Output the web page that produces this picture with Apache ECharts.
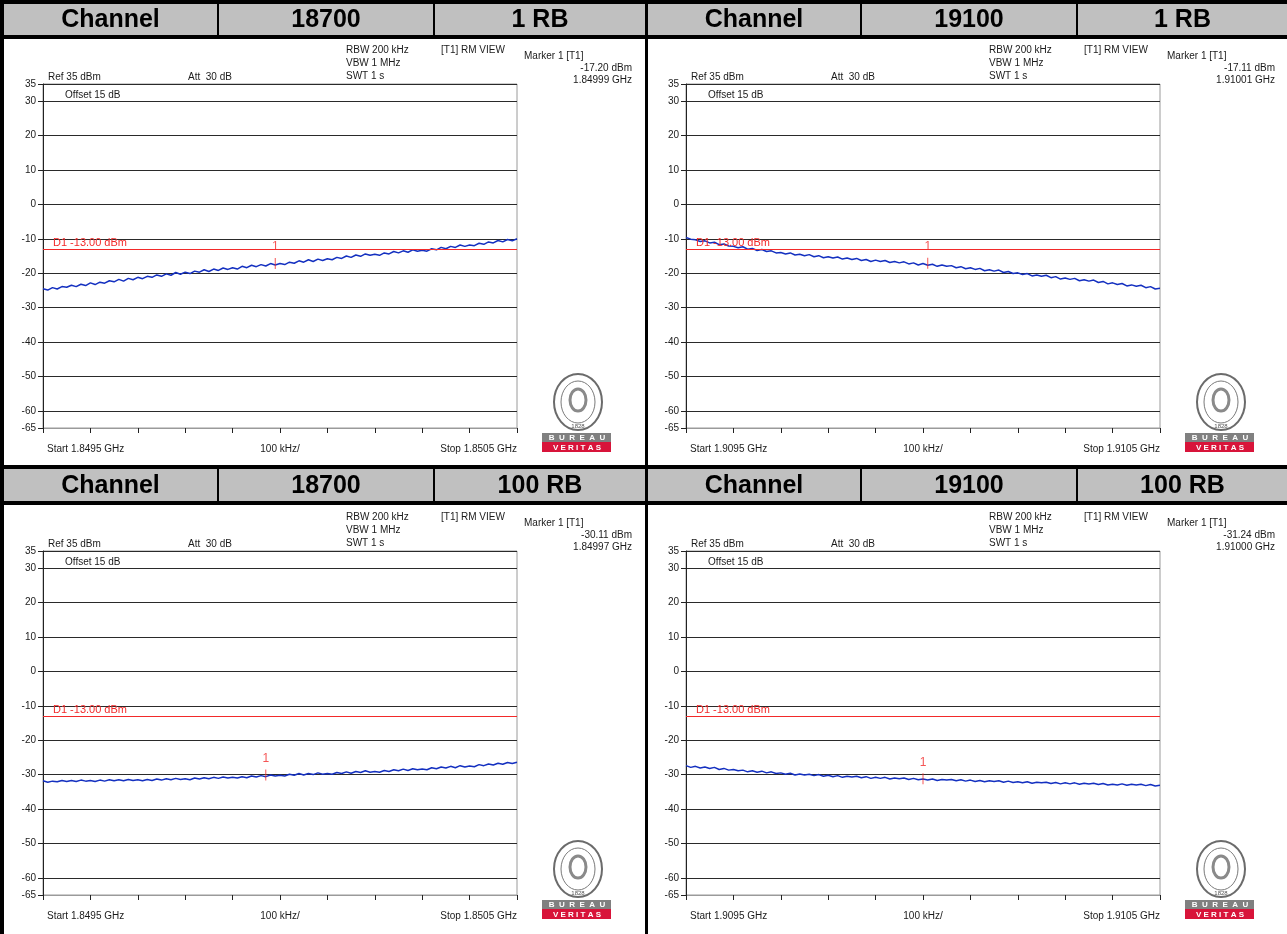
<!DOCTYPE html>
<html>
<head>
<meta charset="utf-8">
<title>Band edge plots</title>
<script src="https://cdn.jsdelivr.net/npm/echarts@6.0.0/dist/echarts.min.js"></script>
<style>
  html, body { margin: 0; padding: 0; background: #fff; }
  #chart { width: 1287px; height: 934px; }
</style>
</head>
<body>
<div id="chart"></div>
<script>
// panel order: top-left, top-right, bottom-left, bottom-right
const channels = ['18700', '19100', '18700', '19100'];
const rbLabels = ['1 RB', '1 RB', '100 RB', '100 RB'];
const startLabels = ['Start 1.8495 GHz', 'Start 1.9095 GHz', 'Start 1.8495 GHz', 'Start 1.9095 GHz'];
const stopLabels = ['Stop 1.8505 GHz', 'Stop 1.9105 GHz', 'Stop 1.8505 GHz', 'Stop 1.9105 GHz'];
const markerKhz = [490, 510, 470, 500];
const markerDbm = [-17.20, -17.11, -30.11, -31.24];
const markerGhz = ['1.84999 GHz', '1.91001 GHz', '1.84997 GHz', '1.91000 GHz'];
const limitDbm = -13;
const yTicks = [35, 30, 20, 10, 0, -10, -20, -30, -40, -50, -60, -65];

// trace readings (dBm), one value every 10 kHz across the 1 MHz span
const trace18700rb1 = [
  -24.5, -24.9, -24.2, -24.6, -23.9, -24.1, -23.5, -23.9, -23.2, -23.6, -22.8,
  -23.3, -22.6, -22.9, -22.2, -22.5, -21.8, -22.3, -21.5, -21.9, -21.2,
  -21.6, -20.9, -21.2, -20.5, -20.9, -20.2, -20.6, -19.8, -20.3, -19.7,
  -20.1, -19.4, -19.7, -19.0, -19.5, -18.8, -19.2, -18.5, -18.9, -18.4,
  -18.8, -18.0, -18.4, -17.7, -18.1, -17.5, -17.9, -17.2, -17.6, -17.2,
  -17.5, -16.8, -17.1, -16.4, -16.8, -16.1, -16.6, -15.9, -16.3, -15.8,
  -16.1, -15.4, -15.7, -15.0, -15.4, -14.7, -15.1, -14.4, -14.8, -14.5,
  -14.8, -14.1, -14.4, -13.7, -14.1, -13.5, -13.9, -13.2, -13.6, -13.3,
  -13.6, -12.9, -13.2, -12.5, -12.9, -12.2, -12.5, -11.8, -12.2, -11.8,
  -12.0, -11.3, -11.6, -10.9, -11.2, -10.5, -10.9, -10.2, -10.6, -10.0
];
const trace19100rb1 = [
  -9.6, -10.1, -10.3, -10.8, -10.6, -11.2, -11.0, -11.7, -11.5, -12.1, -12.2,
  -12.6, -12.3, -13.0, -12.8, -13.4, -13.1, -13.7, -13.5, -14.1, -14.0,
  -14.4, -14.1, -14.7, -14.5, -14.9, -14.6, -15.2, -14.9, -15.5, -15.2,
  -15.6, -15.3, -15.9, -15.6, -16.0, -15.7, -16.3, -16.0, -16.6, -16.2,
  -16.6, -16.3, -16.9, -16.6, -17.0, -16.7, -17.3, -17.0, -17.6, -17.2,
  -17.7, -17.4, -18.0, -17.6, -18.0, -17.8, -18.4, -18.1, -18.7, -18.4,
  -18.9, -18.6, -19.3, -19.0, -19.4, -19.1, -19.8, -19.5, -20.1, -19.9,
  -20.4, -20.1, -20.8, -20.5, -20.9, -20.6, -21.3, -21.0, -21.7, -21.4,
  -21.8, -21.5, -22.2, -21.9, -22.3, -22.0, -22.7, -22.4, -23.1, -22.8,
  -23.3, -23.0, -23.7, -23.4, -23.8, -23.5, -24.2, -23.9, -24.6, -24.4
];
const trace18700rb100 = [
  -31.8, -32.2, -31.9, -32.1, -31.7, -32.0, -31.7, -32.0, -31.6, -31.9, -31.7,
  -32.0, -31.6, -31.9, -31.5, -31.8, -31.5, -31.8, -31.4, -31.7, -31.5,
  -31.8, -31.4, -31.7, -31.3, -31.6, -31.2, -31.5, -31.1, -31.4, -31.2,
  -31.5, -31.0, -31.3, -30.9, -31.2, -30.8, -31.1, -30.7, -31.0, -30.8,
  -31.0, -30.6, -30.9, -30.4, -30.7, -30.3, -30.6, -30.1, -30.4, -30.2,
  -30.4, -29.9, -30.2, -29.7, -30.1, -29.7, -30.0, -29.5, -29.9, -29.7,
  -29.9, -29.4, -29.7, -29.2, -29.6, -29.1, -29.4, -28.9, -29.3, -29.1,
  -29.3, -28.8, -29.1, -28.6, -28.9, -28.4, -28.8, -28.3, -28.6, -28.4,
  -28.6, -28.0, -28.3, -27.8, -28.1, -27.6, -28.0, -27.4, -27.8, -27.5,
  -27.7, -27.1, -27.4, -26.9, -27.2, -26.7, -27.0, -26.5, -26.8, -26.4
];
const trace19100rb100 = [
  -27.4, -27.9, -27.6, -28.1, -27.8, -28.2, -27.9, -28.5, -28.2, -28.7, -28.5,
  -28.9, -28.7, -29.2, -28.9, -29.3, -29.0, -29.5, -29.2, -29.7, -29.5,
  -29.9, -29.6, -30.1, -29.8, -30.1, -29.9, -30.3, -30.0, -30.5, -30.2,
  -30.6, -30.3, -30.8, -30.5, -30.7, -30.5, -30.9, -30.6, -31.1, -30.8,
  -31.1, -30.8, -31.3, -31.0, -31.2, -31.0, -31.4, -31.1, -31.5, -31.3,
  -31.6, -31.3, -31.7, -31.4, -31.6, -31.4, -31.8, -31.5, -31.9, -31.6,
  -32.0, -31.7, -32.1, -31.8, -32.0, -31.8, -32.2, -31.9, -32.3, -32.1,
  -32.4, -32.1, -32.5, -32.2, -32.4, -32.2, -32.6, -32.3, -32.7, -32.4,
  -32.7, -32.4, -32.8, -32.5, -32.7, -32.5, -32.9, -32.6, -33.0, -32.8,
  -33.0, -32.7, -33.1, -32.8, -33.0, -32.8, -33.2, -32.9, -33.3, -33.1
];
const traces = [trace18700rb1, trace19100rb1, trace18700rb100, trace19100rb100];

const FONT = 'Liberation Sans, Arial, sans-serif';
const TXT = '#1a1a1a';
const RED = '#f22a2a';
const BLUE = '#1430c0';
// where each panel sits on the page
const origins = [[0, 0], [643, 0], [0, 467], [643, 467]];

let chart = echarts.init(document.getElementById('chart'))

function txt(x, y, s, opts) {
    return {
        type: 'text',
        x: x, y: y,
        silent: true,
        z: 10,
        style: Object.assign({
            text: s,
            font: '10px ' + FONT,
            fill: TXT,
            textAlign: 'left',
            textVerticalAlign: 'middle'
        }, opts || {})
    }
}

let graphics = []
// black frame: header bands, left edge, centre divider
graphics.push({type: 'rect', shape: {x: 0, y: 0, width: 1287, height: 39}, style: {fill: '#000'}, silent: true})
graphics.push({type: 'rect', shape: {x: 0, y: 465, width: 1287, height: 40}, style: {fill: '#000'}, silent: true})
graphics.push({type: 'rect', shape: {x: 0, y: 0, width: 4, height: 934}, style: {fill: '#000'}, silent: true})
graphics.push({type: 'rect', shape: {x: 645, y: 0, width: 3, height: 934}, style: {fill: '#000'}, silent: true})

const cellsX = [[[4, 217], [219, 433], [435, 645]], [[648, 860], [862, 1076], [1078, 1287]]];
const headY = [[4, 35], [469, 501]];

for (let p = 0; p < 4; p++) {
    let col = p % 2
    let row = Math.floor(p / 2)
    let hy = headY[row]
    let words = ['Channel', channels[p], rbLabels[p]]
    cellsX[col].forEach(function (c, k) {
        graphics.push({type: 'rect', shape: {x: c[0], y: hy[0], width: c[1] - c[0], height: hy[1] - hy[0]},
            style: {fill: '#c0c0c0'}, silent: true})
        graphics.push(txt((c[0] + c[1]) / 2, (hy[0] + hy[1]) / 2 + 1, words[k],
            {font: 'bold 25px ' + FONT, fill: '#000', textAlign: 'center'}))
    })

    let ox = origins[p][0]
    let oy = origins[p][1]
    graphics.push(txt(ox + 48, oy + 77, 'Ref 35 dBm'))
    graphics.push(txt(ox + 188, oy + 77, 'Att  30 dB'))
    graphics.push(txt(ox + 346, oy + 50, 'RBW 200 kHz'))
    graphics.push(txt(ox + 346, oy + 63, 'VBW 1 MHz'))
    graphics.push(txt(ox + 346, oy + 76, 'SWT 1 s'))
    graphics.push(txt(ox + 441, oy + 50, '[T1] RM VIEW'))
    graphics.push(txt(ox + 524, oy + 56, 'Marker 1 [T1]'))
    graphics.push(txt(ox + 632, oy + 68, markerDbm[p].toFixed(2) + ' dBm', {textAlign: 'right'}))
    graphics.push(txt(ox + 632, oy + 80, markerGhz[p], {textAlign: 'right'}))
    graphics.push(txt(ox + 65, oy + 95, 'Offset 15 dB'))
    graphics.push(txt(ox + 47, oy + 449, startLabels[p]))
    graphics.push(txt(ox + 280, oy + 449, '100 kHz/', {textAlign: 'center'}))
    graphics.push(txt(ox + 517, oy + 449, stopLabels[p], {textAlign: 'right'}))

    // Bureau Veritas stamp
    let lx = ox + 578
    let ly = oy + 402
    graphics.push({type: 'ellipse', shape: {cx: lx, cy: ly, rx: 24, ry: 28}, style: {fill: '#fff', stroke: '#6b6b6b', lineWidth: 2}, silent: true})
    graphics.push({type: 'ellipse', shape: {cx: lx, cy: ly, rx: 17, ry: 21}, style: {fill: 'none', stroke: '#7a7a7a', lineWidth: 1}, silent: true})
    graphics.push({type: 'ellipse', shape: {cx: lx, cy: ly - 2, rx: 8, ry: 11}, style: {fill: 'none', stroke: '#8a8a8a', lineWidth: 3}, silent: true})
    graphics.push(txt(lx, ly + 24, '1828', {font: '6px ' + FONT, fill: '#555', textAlign: 'center'}))
    graphics.push({type: 'rect', shape: {x: ox + 542, y: oy + 433, width: 69, height: 9}, style: {fill: '#808080'}, silent: true})
    graphics.push({type: 'rect', shape: {x: ox + 542, y: oy + 442, width: 69, height: 10}, style: {fill: '#d8143a'}, silent: true})
    graphics.push(txt(lx - 1, oy + 438, 'B  U  R  E  A  U', {font: 'bold 8px ' + FONT, fill: '#fff', textAlign: 'center'}))
    graphics.push(txt(lx - 1, oy + 447.5, 'V E R I T A S', {font: 'bold 8px ' + FONT, fill: '#fff', textAlign: 'center'}))
}

let grids = []
let xAxes = []
let yAxes = []
let series = []
for (let p = 0; p < 4; p++) {
    let ox = origins[p][0]
    let oy = origins[p][1]
    grids.push({left: ox + 43, top: oy + 84, width: 474, height: 344, show: true,
        borderColor: '#9a9a9a', borderWidth: 1, backgroundColor: 'transparent'})
    xAxes.push({
        type: 'value', gridIndex: p, min: 0, max: 1000, interval: 100,
        axisLine: {onZero: false, lineStyle: {color: '#9a9a9a'}},
        axisTick: {show: true, inside: false, length: 5, lineStyle: {color: '#222'}},
        axisLabel: {show: false},
        splitLine: {show: false}
    })
    yAxes.push({
        type: 'value', gridIndex: p, min: -65, max: 35,
        axisLine: {show: true, lineStyle: {color: '#222'}},
        axisTick: {show: true, length: 5, customValues: yTicks, lineStyle: {color: '#222'}},
        axisLabel: {customValues: yTicks, fontSize: 10, color: TXT, fontFamily: FONT, margin: 7},
        splitLine: {show: true, lineStyle: {color: '#2a2a2a', width: 1}}
    })
    series.push({
        type: 'line', xAxisIndex: p, yAxisIndex: p,
        data: traces[p].map(function (v, i) { return [i * 10, v] }),
        showSymbol: false, symbol: 'none',
        lineStyle: {color: BLUE, width: 1.5},
        z: 3,
        markLine: {
            silent: true, symbol: 'none', animation: false,
            lineStyle: {color: RED, width: 1, type: 'solid'},
            label: {show: true, position: 'insideStartTop', formatter: 'D1 -13.00 dBm',
                color: RED, fontSize: 11, fontFamily: FONT, distance: [10, 1]},
            data: [{yAxis: limitDbm}]
        }
    })
    series.push({
        type: 'scatter', xAxisIndex: p, yAxisIndex: p,
        data: [[markerKhz[p], markerDbm[p]]],
        symbol: 'rect', symbolSize: [1, 11],
        itemStyle: {color: RED},
        label: {show: true, position: 'top', distance: 5, formatter: '1',
            color: RED, fontSize: 12, fontFamily: FONT},
        z: 5
    })
}

let option = {
    animation: false,
    backgroundColor: '#fff',
    grid: grids,
    xAxis: xAxes,
    yAxis: yAxes,
    series: series,
    graphic: graphics
}
chart.setOption(option)
</script>
</body>
</html>
